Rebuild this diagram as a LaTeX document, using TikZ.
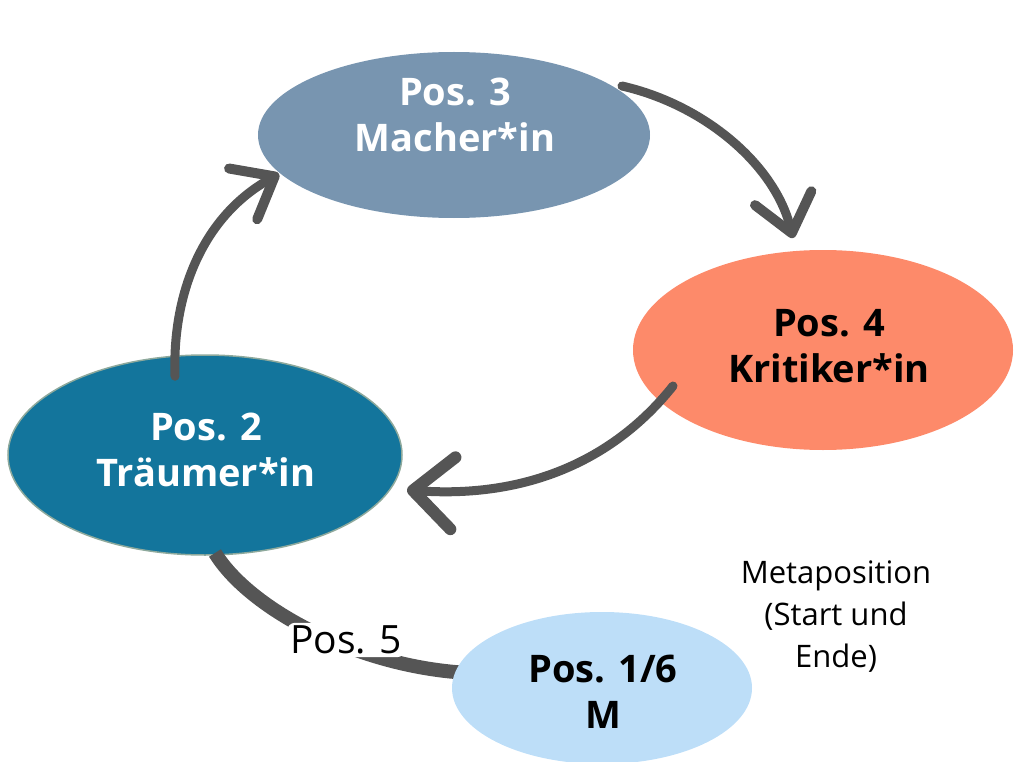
\documentclass[tikz,border=0pt]{standalone}
\usepackage{fontspec}
\setmainfont{Open Sans}
\usetikzlibrary{shapes.geometric,arrows.meta,calc}

\definecolor{macher}{HTML}{7895B0}
\definecolor{kritik}{HTML}{FD8A6A}
\definecolor{traum}{HTML}{13759C}
\definecolor{traumrim}{HTML}{8EA99C}
\definecolor{meta}{HTML}{BDDEF8}
\definecolor{flow}{HTML}{555555}

\tikzset{
  posbox/.style={ellipse, inner sep=0pt, draw=none},
  title/.style={align=center, font=\bfseries\fontsize{38}{46}\selectfont},
  flowarrow/.style={draw=flow, line width=9pt, line cap=round,
    -{Straight Barb[length=36pt, width=58pt, line width=10pt, round]}},
  link/.style={draw=flow, line width=14pt},
}

\begin{document}
\begin{tikzpicture}[x=1pt,y=-1pt]
  \useasboundingbox (0,0) rectangle (1014,762);

  % positions
  \node[posbox, fill=macher, minimum width=392pt, minimum height=166pt] (p3) at (454,135) {};
  \node[posbox, fill=kritik, minimum width=380pt, minimum height=200pt] (p4) at (823,350) {};
  \node[posbox, fill=traum, draw=traumrim, line width=1.5pt,
        minimum width=394pt, minimum height=200pt] (p2) at (205,455) {};

  % Pos. 5: back from Pos. 2 to the meta position (under the meta ellipse)
  \coordinate (a5s) at (215,553);
  \coordinate (a5e) at (470,673);
  \draw[link] (a5s) .. controls (250,610) and (360,668) .. (a5e);

  \node[posbox, fill=meta, minimum width=300pt, minimum height=152pt] (p1) at (602,688) {};

  % Pos. 2 -> Pos. 3 -> Pos. 4 -> Pos. 2
  \coordinate (a1s) at ($(p2.north)+(-30,22)$);
  \coordinate (a1e) at (279,174);
  \draw[flowarrow] (a1s) .. controls (172,290) and (205,215) .. (a1e);

  \coordinate (a2s) at (622,86);
  \coordinate (a2e) at (793,238);
  \draw[flowarrow] (a2s) .. controls (705,105) and (775,165) .. (a2e);

  \coordinate (a3s) at (673,386);
  \coordinate (a3e) at (407,490);
  \draw[flowarrow, -{Straight Barb[length=40pt, width=72pt, line width=12pt, round]}]
    (a3s) .. controls (610,465) and (520,498) .. (a3e);

  \node[fill=white, rounded corners=8pt, inner sep=3pt,
        font=\fontsize{39}{46}\selectfont] (p5) at (346,640) {Pos. 5};

  % labels
  \node[title, text=white] (t3) at (455,115) {Pos. 3\\Macher*in};
  \node[title, text=black] (t4) at (829,346) {Pos. 4\\Kritiker*in};
  \node[title, text=white] (t2) at (206,450) {Pos. 2\\Träumer*in};
  \node[title, text=black] (t1) at (603,692) {Pos. 1/6\\M};

  \node[align=center, text=black, font=\fontsize{31}{42}\selectfont] (tm) at (836,617)
    {Metaposition\\(Start und\\Ende)};
\end{tikzpicture}
\end{document}
